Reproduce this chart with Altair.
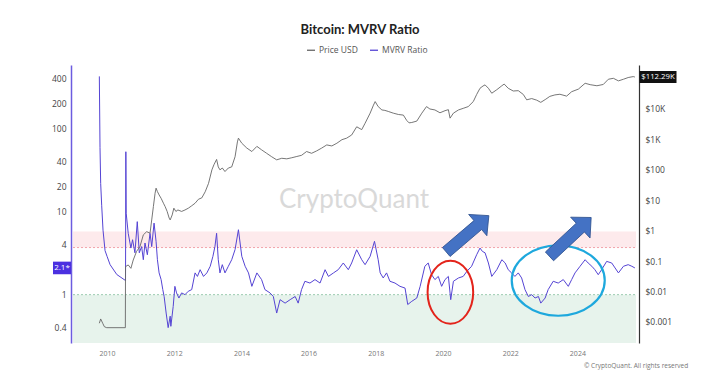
import altair as alt
import pandas as pd

# ---------------- data ----------------
mvrv_years = [
    2009.77, 2009.79, 2009.81, 2009.84, 2009.88, 2009.94,
    2010.00, 2010.09, 2010.29, 2010.55, 2010.56, 2010.57, 2010.63, 2010.71, 2010.76, 2010.83, 2010.90, 2010.96,
    2011.03, 2011.08, 2011.13, 2011.20, 2011.28, 2011.33, 2011.40, 2011.46, 2011.50, 2011.55, 2011.61, 2011.66,
    2011.70, 2011.76, 2011.82, 2011.88, 2011.90, 2011.97,
    2012.02, 2012.07, 2012.14, 2012.22, 2012.32, 2012.42, 2012.52, 2012.62, 2012.69, 2012.77, 2012.87, 2012.97,
    2013.07, 2013.15, 2013.21, 2013.26, 2013.31, 2013.36, 2013.43, 2013.51, 2013.61, 2013.71, 2013.81, 2013.91,
    2014.01, 2014.11, 2014.21, 2014.31, 2014.46, 2014.60, 2014.70, 2014.85, 2014.95,
    2015.05, 2015.15, 2015.30, 2015.45, 2015.60, 2015.69, 2015.79, 2015.89,
    2016.04, 2016.19, 2016.34, 2016.49, 2016.59, 2016.74, 2016.88,
    2017.03, 2017.18, 2017.28, 2017.43, 2017.58, 2017.68, 2017.83, 2017.96,
    2018.07, 2018.13, 2018.22, 2018.32, 2018.42, 2018.57, 2018.72, 2018.87, 2018.95,
    2019.07, 2019.22, 2019.32, 2019.46, 2019.56, 2019.66, 2019.76, 2019.86, 2019.96,
    2020.06, 2020.16, 2020.23, 2020.31, 2020.46, 2020.60, 2020.71, 2020.85,
    2021.00, 2021.10, 2021.17, 2021.25, 2021.35, 2021.45, 2021.60, 2021.75, 2021.85, 2021.94,
    2022.04, 2022.14, 2022.24, 2022.34, 2022.44, 2022.54, 2022.64, 2022.74, 2022.84, 2022.91,
    2023.04, 2023.13, 2023.28, 2023.43, 2023.58, 2023.73, 2023.83, 2023.93,
    2024.08, 2024.23, 2024.32, 2024.43, 2024.52, 2024.62, 2024.72, 2024.87,
    2025.02, 2025.12, 2025.22, 2025.37, 2025.51, 2025.62, 2025.71,
]
mvrv_values = [
    430, 60, 22, 12, 6, 3.4,
    2.9, 2.3, 1.75, 1.48, 53, 9.6, 5.5, 3.65, 4.6, 3.2, 7.6, 3.2,
    3.8, 2.64, 4.2, 3.03, 5.5, 3.8, 7.3, 4.4, 2.64, 1.83, 1.52, 1.15,
    0.95, 0.60, 0.40, 0.55, 0.415, 0.72,
    1.26, 1.05, 0.91, 1.05, 1.0, 1.1, 1.15, 1.83, 1.66, 2.0, 1.66, 1.83,
    2.2, 2.9, 3.8, 5.5, 2.64, 1.83, 2.3, 1.83, 2.2, 2.64, 3.5, 6.07,
    2.9, 2.2, 1.83, 1.26, 1.83, 1.52, 1.15, 1.05, 0.95,
    0.60, 0.87, 0.79, 0.87, 0.95, 0.79, 1.15, 1.45,
    1.38, 1.52, 1.38, 2.0, 1.66, 1.83, 2.0,
    2.41, 2.0, 2.41, 3.48, 2.64, 2.3, 2.9, 4.4,
    2.64, 1.83, 1.59, 1.83, 1.45, 1.38, 1.26, 1.2, 0.76,
    0.83, 0.91, 1.26, 2.2, 2.41, 1.74, 1.52, 1.66, 1.26,
    1.52, 1.66, 0.87, 1.45, 1.59, 1.66, 1.91, 2.2,
    3.03, 3.65, 3.33, 3.2, 2.41, 1.66, 2.0, 2.64, 2.41, 2.0,
    1.83, 1.66, 1.83, 1.59, 1.15, 0.95, 1.0, 0.91, 0.95, 0.79,
    0.91, 1.15, 1.45, 1.38, 1.52, 1.26, 1.52, 1.83,
    2.2, 2.64, 2.41, 2.2, 2.0, 1.74, 2.0, 2.52,
    2.41, 2.1, 1.83, 2.2, 2.3, 2.2, 2.1,
]

price_years = [
    2009.77, 2009.81, 2009.87, 2009.92, 2009.99,
    2010.545, 2010.55, 2010.63, 2010.71, 2010.78, 2010.88, 2010.98,
    2011.08, 2011.18, 2011.28, 2011.33, 2011.38, 2011.43, 2011.46, 2011.50, 2011.55, 2011.61, 2011.68, 2011.73,
    2011.79, 2011.85, 2011.88, 2011.94, 2011.99,
    2012.05, 2012.11, 2012.22, 2012.32, 2012.42, 2012.52, 2012.62, 2012.72, 2012.82, 2012.92,
    2013.02, 2013.12, 2013.18, 2013.26, 2013.31, 2013.36, 2013.43, 2013.51, 2013.61, 2013.71, 2013.81, 2013.88, 2013.91,
    2014.01, 2014.16, 2014.31, 2014.46, 2014.60, 2014.75, 2014.90,
    2015.05, 2015.20, 2015.35, 2015.50, 2015.65, 2015.79, 2015.94,
    2016.09, 2016.24, 2016.39, 2016.54, 2016.69, 2016.84, 2016.99,
    2017.13, 2017.28, 2017.43, 2017.58, 2017.68, 2017.83, 2017.93, 2017.98,
    2018.07, 2018.18, 2018.27, 2018.37, 2018.52, 2018.67, 2018.82, 2018.92, 2018.99,
    2019.07, 2019.22, 2019.37, 2019.51, 2019.61, 2019.76, 2019.91,
    2020.06, 2020.16, 2020.21, 2020.31, 2020.46, 2020.60, 2020.75, 2020.90,
    2021.00, 2021.10, 2021.19, 2021.25, 2021.35, 2021.45, 2021.60, 2021.75, 2021.82, 2021.94,
    2022.09, 2022.24, 2022.39, 2022.49, 2022.64, 2022.79, 2022.91,
    2023.06, 2023.18, 2023.33, 2023.48, 2023.68, 2023.83,
    2024.03, 2024.23, 2024.38, 2024.58, 2024.77, 2024.92,
    2025.07, 2025.22, 2025.37, 2025.51, 2025.66, 2025.71,
]
price_values = [
    0.00091, 0.00126, 0.00091, 0.0007, 0.00065,
    0.00065, 0.066, 0.075, 0.058, 0.109, 0.21, 0.30,
    0.73, 0.93, 0.83, 2.26, 6.2, 17, 25, 19.3, 15, 11.6, 8.0, 6.2,
    4.3, 2.6, 2.26, 3.3, 5.5,
    4.3, 4.8, 4.3, 4.8, 5.5, 6.6, 8.0, 10.8, 12, 19,
    36, 100, 147, 220, 125, 100, 115, 88, 115, 125, 270, 830, 1100,
    750, 520, 400, 590, 455, 350, 270,
    213, 240, 230, 250, 275, 300, 400,
    350, 420, 520, 660, 610, 750, 980,
    1100, 1400, 2600, 2100, 3400, 7300, 13400, 17500,
    12000, 9300, 9000, 8300, 7300, 6600, 6300, 4200, 3500,
    3600, 4000, 7300, 12000, 10000, 9300, 7500,
    8800, 9500, 5000, 7300, 9300, 10500, 12000, 17500,
    30000, 48000, 57000, 62000, 48000, 33000, 43000, 58000, 66000, 48000,
    39000, 40000, 30000, 20000, 22000, 19500, 16500,
    21000, 26000, 29000, 30500, 26500, 37000,
    45000, 70000, 63000, 58000, 64000, 95000,
    102000, 84000, 95000, 108000, 116000, 112290,
]

mvrv_ticks = [0.4, 1, 4, 10, 20, 40, 100, 200, 400]
price_ticks = [0.001, 0.01, 0.1, 1, 10, 100, 1000, 10000]
year_ticks = [2010, 2012, 2014, 2016, 2018, 2020, 2022, 2024]

low_zone_top = 1.0          # green zone: MVRV below 1
high_zone = [3.7, 5.8]      # pink zone
current_mvrv = 2.1
current_price = 112290

arrow_years = [2020.73, 2023.79]
arrow_mvrv = [5.42, 4.97]
red_ring = [2020.22, 1.07]
blue_ring = [2023.43, 1.48]
watermark_at = [2017.35, 13.9]

assert len(mvrv_years) == len(mvrv_values)
assert len(price_years) == len(price_values)


def to_iso(y):
    yr = int(y // 1)
    start = pd.Timestamp(year=yr, month=1, day=1)
    end = pd.Timestamp(year=yr + 1, month=1, day=1)
    return (start + (end - start) * (y - yr)).strftime("%Y-%m-%dT%H:%M:%S")


mvrv_df = pd.DataFrame({"date": [to_iso(y) for y in mvrv_years], "v": mvrv_values, "series": "MVRV Ratio"})
price_df = pd.DataFrame({"date": [to_iso(y) for y in price_years], "p": price_values, "series": "Price USD"})

# ---------------- styling ----------------
W, H = 568, 278
FONT = "Open Sans"
PURPLE = "#5544d4"

x_scale = alt.Scale(domain=[alt.DateTime(year=2008, month=12, date=5),
                            alt.DateTime(year=2025, month=11, date=1)])
x_axis = alt.Axis(values=[alt.DateTime(year=y, month=1, date=1) for y in year_ticks], format="%Y",
                  domain=False, ticks=False, grid=False, labelFontSize=7, labelColor="#777777",
                  labelPadding=6, labelFont=FONT, labelFlush=False, title=None)
X = alt.X("date:T", scale=x_scale, axis=x_axis)

mvrv_scale = alt.Scale(type="log", domain=[0.261, 590], nice=False)
price_scale = alt.Scale(type="log", domain=[0.000204, 279000], nice=False)

mvrv_axis = alt.Axis(orient="left", values=mvrv_ticks, format="~g", ticks=False, grid=False,
                     domainColor="#6c5ce0", domainWidth=1.5, labelColor="#444444", labelFontSize=8.5,
                     labelFont=FONT, labelPadding=5, labelOverlap=False, title=None)
price_axis = alt.Axis(orient="right", values=price_ticks, ticks=False, grid=False,
                      labelExpr="datum.value >= 1000 ? '$' + format(datum.value / 1000, '~g') + 'K' : '$' + format(datum.value, '~g')",
                      domainColor="#333333", domainWidth=1.2, labelColor="#444444", labelFontSize=8.5,
                      labelFont=FONT, labelPadding=6, labelOverlap=False, title=None)


def YM(field):
    return alt.Y(field, type="quantitative", scale=mvrv_scale, axis=mvrv_axis, title=None)


def YP(field):
    return alt.Y(field, type="quantitative", scale=price_scale, axis=price_axis, title=None)


color = alt.Color("series:N",
                  scale=alt.Scale(domain=["Price USD", "MVRV Ratio"], range=["#666666", PURPLE]),
                  legend=alt.Legend(orient="none", legendX=235, legendY=-20, direction="horizontal",
                                    title=None, symbolType="stroke", symbolSize=64, symbolStrokeWidth=1.3,
                                    labelFontSize=8.5, labelColor="#555555", labelFont=FONT,
                                    labelOffset=3, columnPadding=9, padding=0))

# ---------------- MVRV group (left axis) ----------------
wm = alt.Chart(pd.DataFrame({"date": [to_iso(watermark_at[0])], "v": [watermark_at[1]]})).mark_text(
    text="CryptoQuant", font="Lato", fontSize=26, color="#d9d9d9", align="center", baseline="middle"
).encode(x=X, y=YM("v"))

zone_df = pd.DataFrame({"low": [low_zone_top], "hi_a": [high_zone[0]], "hi_b": [high_zone[1]]})
green = alt.Chart(zone_df).mark_rect(color="#e7f3ec").encode(
    x=alt.value(2), x2=alt.value(W - 3), y=YM("low"), y2=alt.value(H))
pink = alt.Chart(zone_df).mark_rect(color="#fdeaec").encode(
    x=alt.value(2), x2=alt.value(W - 3), y=YM("hi_a"), y2="hi_b:Q")
rule_g = alt.Chart(zone_df).mark_rule(color="#9ccbb0", strokeDash=[2, 2], strokeWidth=1).encode(
    x=alt.value(2), x2=alt.value(W - 3), y=YM("low"))
rule_p = alt.Chart(zone_df).mark_rule(color="#f2a3ab", strokeDash=[2, 2], strokeWidth=1).encode(
    x=alt.value(2), x2=alt.value(W - 3), y=YM("hi_a"))

mvrv_line = alt.Chart(mvrv_df).mark_line(strokeWidth=1, clip=True).encode(x=X, y=YM("v"), color=color)

ELLIPSE_WIDE = "M-1,0A1,0.757,0,1,0,1,0A1,0.757,0,1,0,-1,0Z"
ELLIPSE_TALL = "M-0.724,0A0.724,1,0,1,0,0.724,0A0.724,1,0,1,0,-0.724,0Z"
ARROW = "M-1,-0.21L0.48,-0.21L0.48,-0.5L1,0L0.48,0.5L0.48,0.21L-1,0.21Z"
BOX_L = "M-1,-0.7L1,-0.7L1,0.7L-1,0.7Z"
BOX_R = "M-1,-0.32L1,-0.32L1,0.32L-1,0.32Z"

red = alt.Chart(pd.DataFrame({"date": [to_iso(red_ring[0])], "v": [red_ring[1]]})).mark_point(
    shape=ELLIPSE_TALL, size=3969, filled=False, stroke="#e3241b", strokeWidth=2, opacity=1
).encode(x=X, y=YM("v"))
blue = alt.Chart(pd.DataFrame({"date": [to_iso(blue_ring[0])], "v": [blue_ring[1]]})).mark_point(
    shape=ELLIPSE_WIDE, size=8649, filled=False, stroke="#1ea8dd", strokeWidth=2.2, opacity=1
).encode(x=X, y=YM("v"))
arrow1 = alt.Chart(pd.DataFrame({"date": [to_iso(arrow_years[0])], "v": [arrow_mvrv[0]]})).mark_point(
    shape=ARROW, size=3136, angle=319.5, filled=True, fill="#4472c4", stroke="#2f528f",
    strokeWidth=0.8, opacity=1
).encode(x=X, y=YM("v"))
arrow2 = alt.Chart(pd.DataFrame({"date": [to_iso(arrow_years[1])], "v": [arrow_mvrv[1]]})).mark_point(
    shape=ARROW, size=3249, angle=317, filled=True, fill="#4472c4", stroke="#2f528f",
    strokeWidth=0.8, opacity=1
).encode(x=X, y=YM("v"))

cur_df = pd.DataFrame({"v": [current_mvrv]})
tag_l = alt.Chart(cur_df).mark_point(shape=BOX_L, size=324, filled=True, fill="#4b30e0", opacity=1).encode(
    x=alt.value(-9), y=YM("v"))
tag_l_txt = alt.Chart(cur_df).mark_text(text=f"{current_mvrv}*", color="white", fontSize=8, font=FONT,
                                         align="center", baseline="middle").encode(
    x=alt.value(-9), y=YM("v"))

mvrv_group = alt.layer(wm, green, pink, rule_g, rule_p, mvrv_line, red, blue, arrow1, arrow2, tag_l, tag_l_txt)

# ---------------- Price group (right axis) ----------------
price_line = alt.Chart(price_df).mark_line(strokeWidth=0.9, clip=True).encode(x=X, y=YP("p"), color=color)

pr_df = pd.DataFrame({"p": [current_price]})
tag_r = alt.Chart(pr_df).mark_point(shape=BOX_R, size=1369, filled=True, fill="#111111", opacity=1).encode(
    x=alt.value(W + 19), y=YP("p"))
tag_r_txt = alt.Chart(pr_df).mark_text(text=f"${current_price / 1000:.2f}K", color="white", fontSize=7.8,
                                        font=FONT, align="center", baseline="middle").encode(
    x=alt.value(W + 19), y=YP("p"))
copy_txt = alt.Chart(pr_df).mark_text(text="© CryptoQuant. All rights reserved", color="#777777", fontSize=6.5,
                                       font=FONT, align="left", baseline="middle").encode(
    x=alt.value(513), y=alt.value(301))

price_group = alt.layer(price_line, tag_r, tag_r_txt, copy_txt)

chart = alt.layer(mvrv_group, price_group).resolve_scale(y="independent").properties(
    width=W, height=H,
    title=alt.TitleParams("Bitcoin: MVRV Ratio", anchor="middle", font="Lato", fontSize=13,
                          fontWeight="bold", color="#222222", offset=8, dx=5),
    autosize=alt.AutoSizeParams(type="none"),
    padding={"left": 71, "top": 65, "right": 79, "bottom": 33},
).configure_view(strokeWidth=0)

chart.save("out.html", embed_options={"renderer": "svg", "actions": False})
